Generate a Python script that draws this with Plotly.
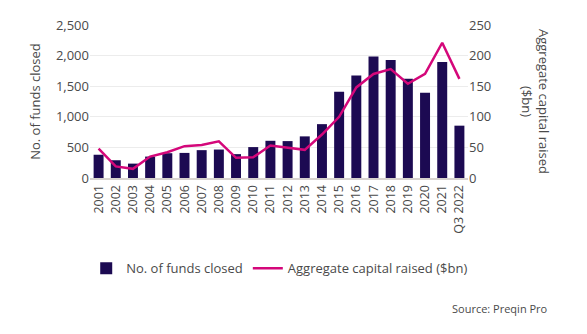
import plotly.graph_objects as go

years = ["2001", "2002", "2003", "2004", "2005", "2006", "2007", "2008", "2009", "2010", "2011",
         "2012", "2013", "2014", "2015", "2016", "2017", "2018", "2019", "2020", "2021", "Q3 2022"]
funds_closed = [380, 290, 235, 350, 405, 410, 455, 465, 390, 505, 608,
                603, 680, 880, 1410, 1675, 1985, 1930, 1620, 1395, 1895, 855]
capital_raised = [48, 19, 15, 35, 42, 52, 54, 60, 33, 34, 53,
                  49, 46, 71, 100, 148, 170, 178, 154, 170, 221, 162]

BAR_COLOR = "#1c0a52"
LINE_COLOR = "#d4077a"
TEXT_COLOR = "#4a4a4a"
FONT = "Open Sans"

fig = go.Figure()
fig.add_trace(go.Bar(
    x=years, y=funds_closed, name="No. of funds closed",
    marker=dict(color=BAR_COLOR, line=dict(width=0)), yaxis="y",
))
fig.add_trace(go.Scatter(
    x=years, y=capital_raised, name="Aggregate capital raised ($bn)",
    mode="lines", line=dict(color=LINE_COLOR, width=2.5), yaxis="y2",
))

fig.update_layout(
    width=587, height=334,
    margin=dict(l=90, r=119, t=25, b=156),
    paper_bgcolor="white", plot_bgcolor="white",
    font=dict(family=FONT, size=13, color=TEXT_COLOR),
    bargap=0.42,
    showlegend=True,
    legend=dict(orientation="h", x=-0.01, xanchor="left", y=-0.59, yanchor="middle",
                font=dict(size=13, color=TEXT_COLOR), traceorder="normal",
                itemwidth=30, tracegroupgap=0),
    xaxis=dict(
        type="category", tickangle=-90, showgrid=False,
        showline=True, linecolor="#d8d3cf", linewidth=2,
        ticks="", tickfont=dict(size=12.5, color=TEXT_COLOR),
    ),
    yaxis=dict(
        range=[0, 2500], tickvals=[0, 500, 1000, 1500, 2000, 2500],
        ticktext=["0", "500", "1,000", "1,500", "2,000", "2,500"],
        showgrid=True, gridcolor="#ececec", gridwidth=1,
        zeroline=False, showline=False, ticks="",
        tickfont=dict(size=13, color=TEXT_COLOR),
        title=dict(text="No. of funds closed", standoff=12, font=dict(size=13, color=TEXT_COLOR)),
    ),
    yaxis2=dict(
        overlaying="y", side="right", range=[0, 250],
        tickvals=[0, 50, 100, 150, 200, 250],
        showgrid=False, zeroline=False, showline=False, ticks="",
        tickfont=dict(size=13, color=TEXT_COLOR),
    ),
    annotations=[
        dict(text="Aggregate capital raised<br>($bn)", textangle=90,
             xref="paper", yref="paper", x=1.0, xanchor="left", xshift=48,
             y=0.5, yanchor="middle", showarrow=False,
             font=dict(size=13, color=TEXT_COLOR)),
        dict(text="Source: Preqin Pro", xref="paper", yref="paper",
             x=1.0, xanchor="right", xshift=82, y=0, yshift=-130, yanchor="middle",
             showarrow=False, font=dict(size=11, color=TEXT_COLOR)),
    ],
)

fig.write_html("out.html")
